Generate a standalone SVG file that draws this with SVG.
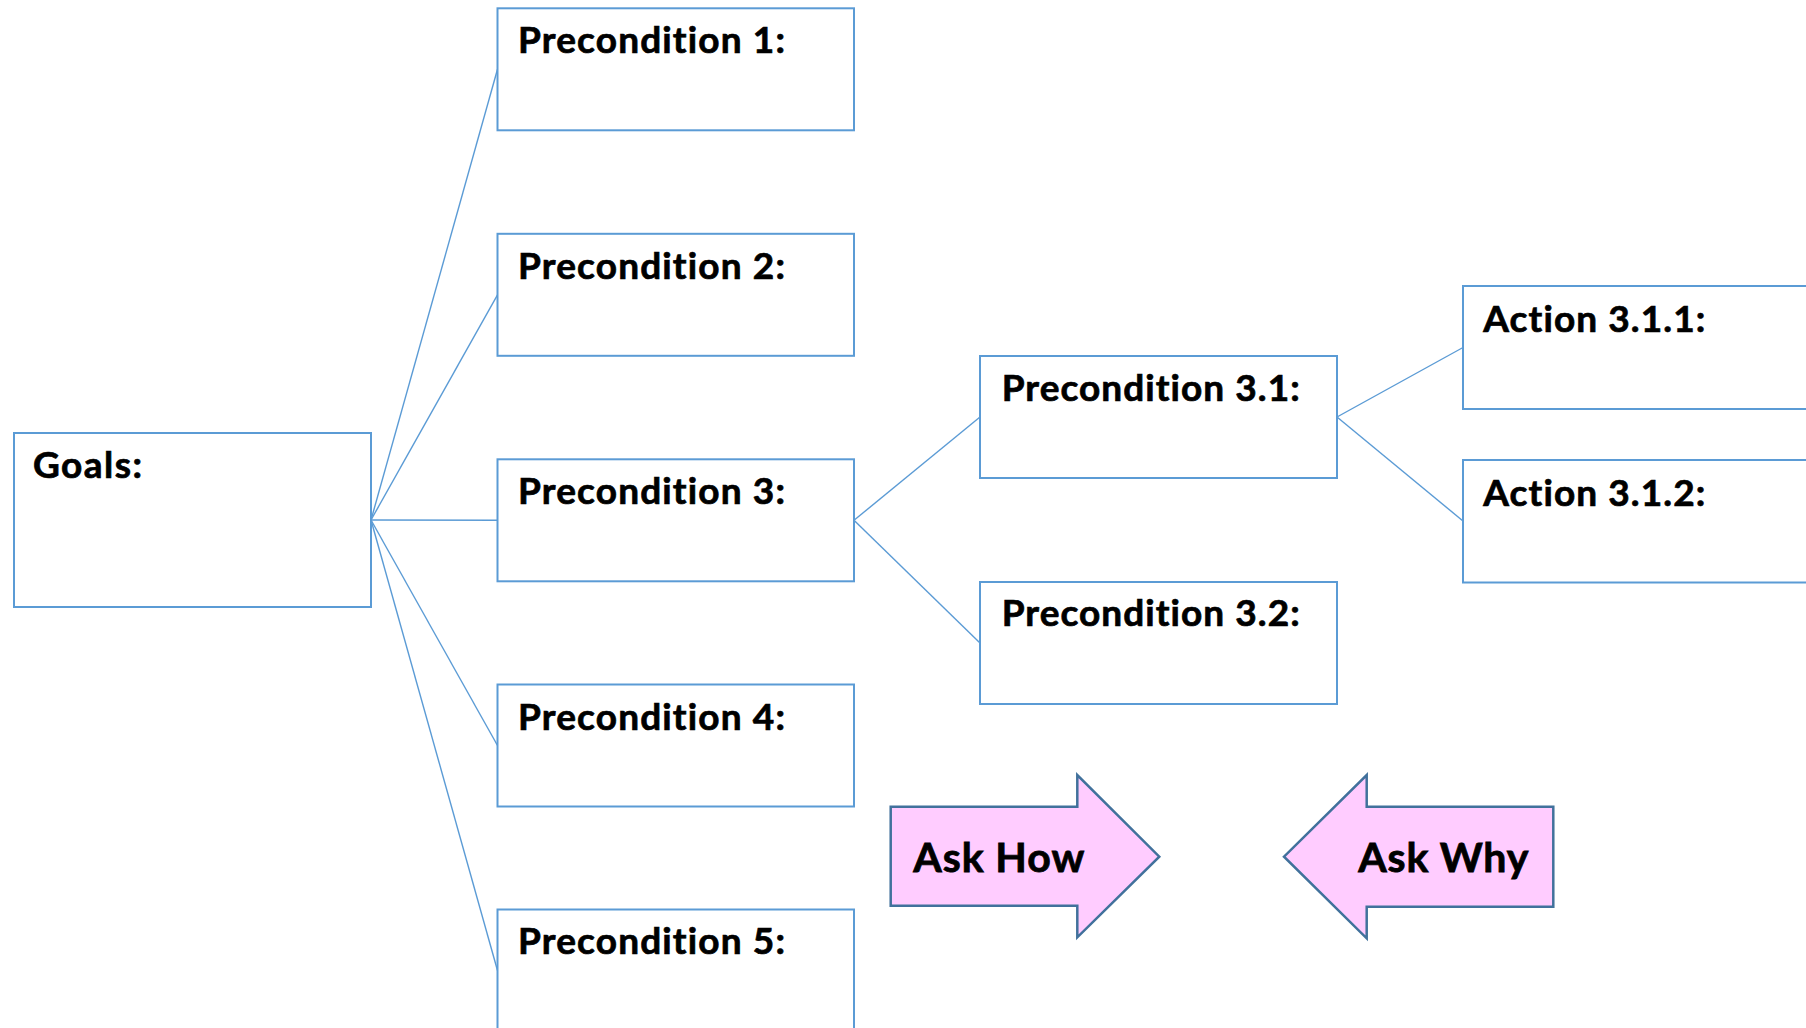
<svg xmlns="http://www.w3.org/2000/svg" width="1806" height="1028" viewBox="0 0 1806 1028">
  <style>
    .box { fill: #ffffff; stroke: #5B9BD5; stroke-width: 2; }
    .link { fill: none; stroke: #5B9BD5; stroke-width: 1.4; }
    .label { font-family: Lato, "Open Sans", "Liberation Sans", sans-serif; font-weight: bold; font-size: 37px; fill: #000000; stroke: #000000; stroke-width: 0.7; font-variant-ligatures: none; }
    .arrow { fill: #FFCCFF; stroke: #41719C; stroke-width: 2.5; stroke-linejoin: miter; }
    .arrow-label { font-family: Lato, "Open Sans", "Liberation Sans", sans-serif; font-weight: bold; font-size: 41px; fill: #000000; stroke: #000000; stroke-width: 0.8; font-variant-ligatures: none; }
  </style>

  <rect width="1806" height="1028" fill="#ffffff"/>

  <!-- connectors -->
  <g id="connectors">
    <line class="link" x1="371" y1="520" x2="497.5" y2="69.3"/>
    <line class="link" x1="371" y1="520" x2="497.5" y2="294.8"/>
    <line class="link" x1="371" y1="520" x2="497.5" y2="520.3"/>
    <line class="link" x1="371" y1="520" x2="497.5" y2="745.5"/>
    <line class="link" x1="371" y1="520" x2="497.5" y2="970.5"/>
    <line class="link" x1="854" y1="520.3" x2="980" y2="417"/>
    <line class="link" x1="854" y1="520.3" x2="980" y2="643"/>
    <line class="link" x1="1337" y1="417" x2="1463" y2="347.5"/>
    <line class="link" x1="1337" y1="417" x2="1463" y2="521"/>
  </g>

  <!-- goal -->
  <g id="goals">
    <rect class="box" x="14" y="433" width="357" height="174"/>
    <text class="label" x="33" y="478" textLength="109">Goals:</text>
  </g>

  <!-- first-level preconditions -->
  <g id="precondition-1">
    <rect class="box" x="497.5" y="8.3" width="356.5" height="122"/>
    <text class="label" x="518" y="53.3" textLength="267">Precondition 1:</text>
  </g>
  <g id="precondition-2">
    <rect class="box" x="497.5" y="233.8" width="356.5" height="122"/>
    <text class="label" x="518" y="278.8" textLength="267">Precondition 2:</text>
  </g>
  <g id="precondition-3">
    <rect class="box" x="497.5" y="459.3" width="356.5" height="122"/>
    <text class="label" x="518" y="504.3" textLength="267">Precondition 3:</text>
  </g>
  <g id="precondition-4">
    <rect class="box" x="497.5" y="684.5" width="356.5" height="122"/>
    <text class="label" x="518" y="729.5" textLength="267">Precondition 4:</text>
  </g>
  <g id="precondition-5">
    <rect class="box" x="497.5" y="909.5" width="356.5" height="140"/>
    <text class="label" x="518" y="954" textLength="267">Precondition 5:</text>
  </g>

  <!-- second-level preconditions -->
  <g id="precondition-3-1">
    <rect class="box" x="980" y="356" width="357" height="122"/>
    <text class="label" x="1001.7" y="401" textLength="298">Precondition 3.1:</text>
  </g>
  <g id="precondition-3-2">
    <rect class="box" x="980" y="582" width="357" height="122"/>
    <text class="label" x="1001.7" y="625.5" textLength="298">Precondition 3.2:</text>
  </g>

  <!-- actions -->
  <g id="action-3-1-1">
    <rect class="box" x="1463" y="286" width="400" height="123"/>
    <text class="label" x="1483.3" y="331.7" textLength="222">Action 3.1.1:</text>
  </g>
  <g id="action-3-1-2">
    <rect class="box" x="1463" y="460" width="400" height="122.5"/>
    <text class="label" x="1483.3" y="505.5" textLength="222">Action 3.1.2:</text>
  </g>

  <!-- direction hints -->
  <g id="ask-how">
    <path class="arrow" d="M890.7,806.7 H1077.3 V775 L1159.3,856.7 L1077.3,937.3 V905.7 H890.7 Z"/>
    <text class="arrow-label" x="913.3" y="871.7" textLength="171">Ask How</text>
  </g>
  <g id="ask-why">
    <path class="arrow" d="M1553.3,806.7 H1366.7 V775 L1284,856.7 L1366.7,938.3 V906.7 H1553.3 Z"/>
    <text class="arrow-label" x="1358.3" y="871.7" textLength="170">Ask Why</text>
  </g>
</svg>
